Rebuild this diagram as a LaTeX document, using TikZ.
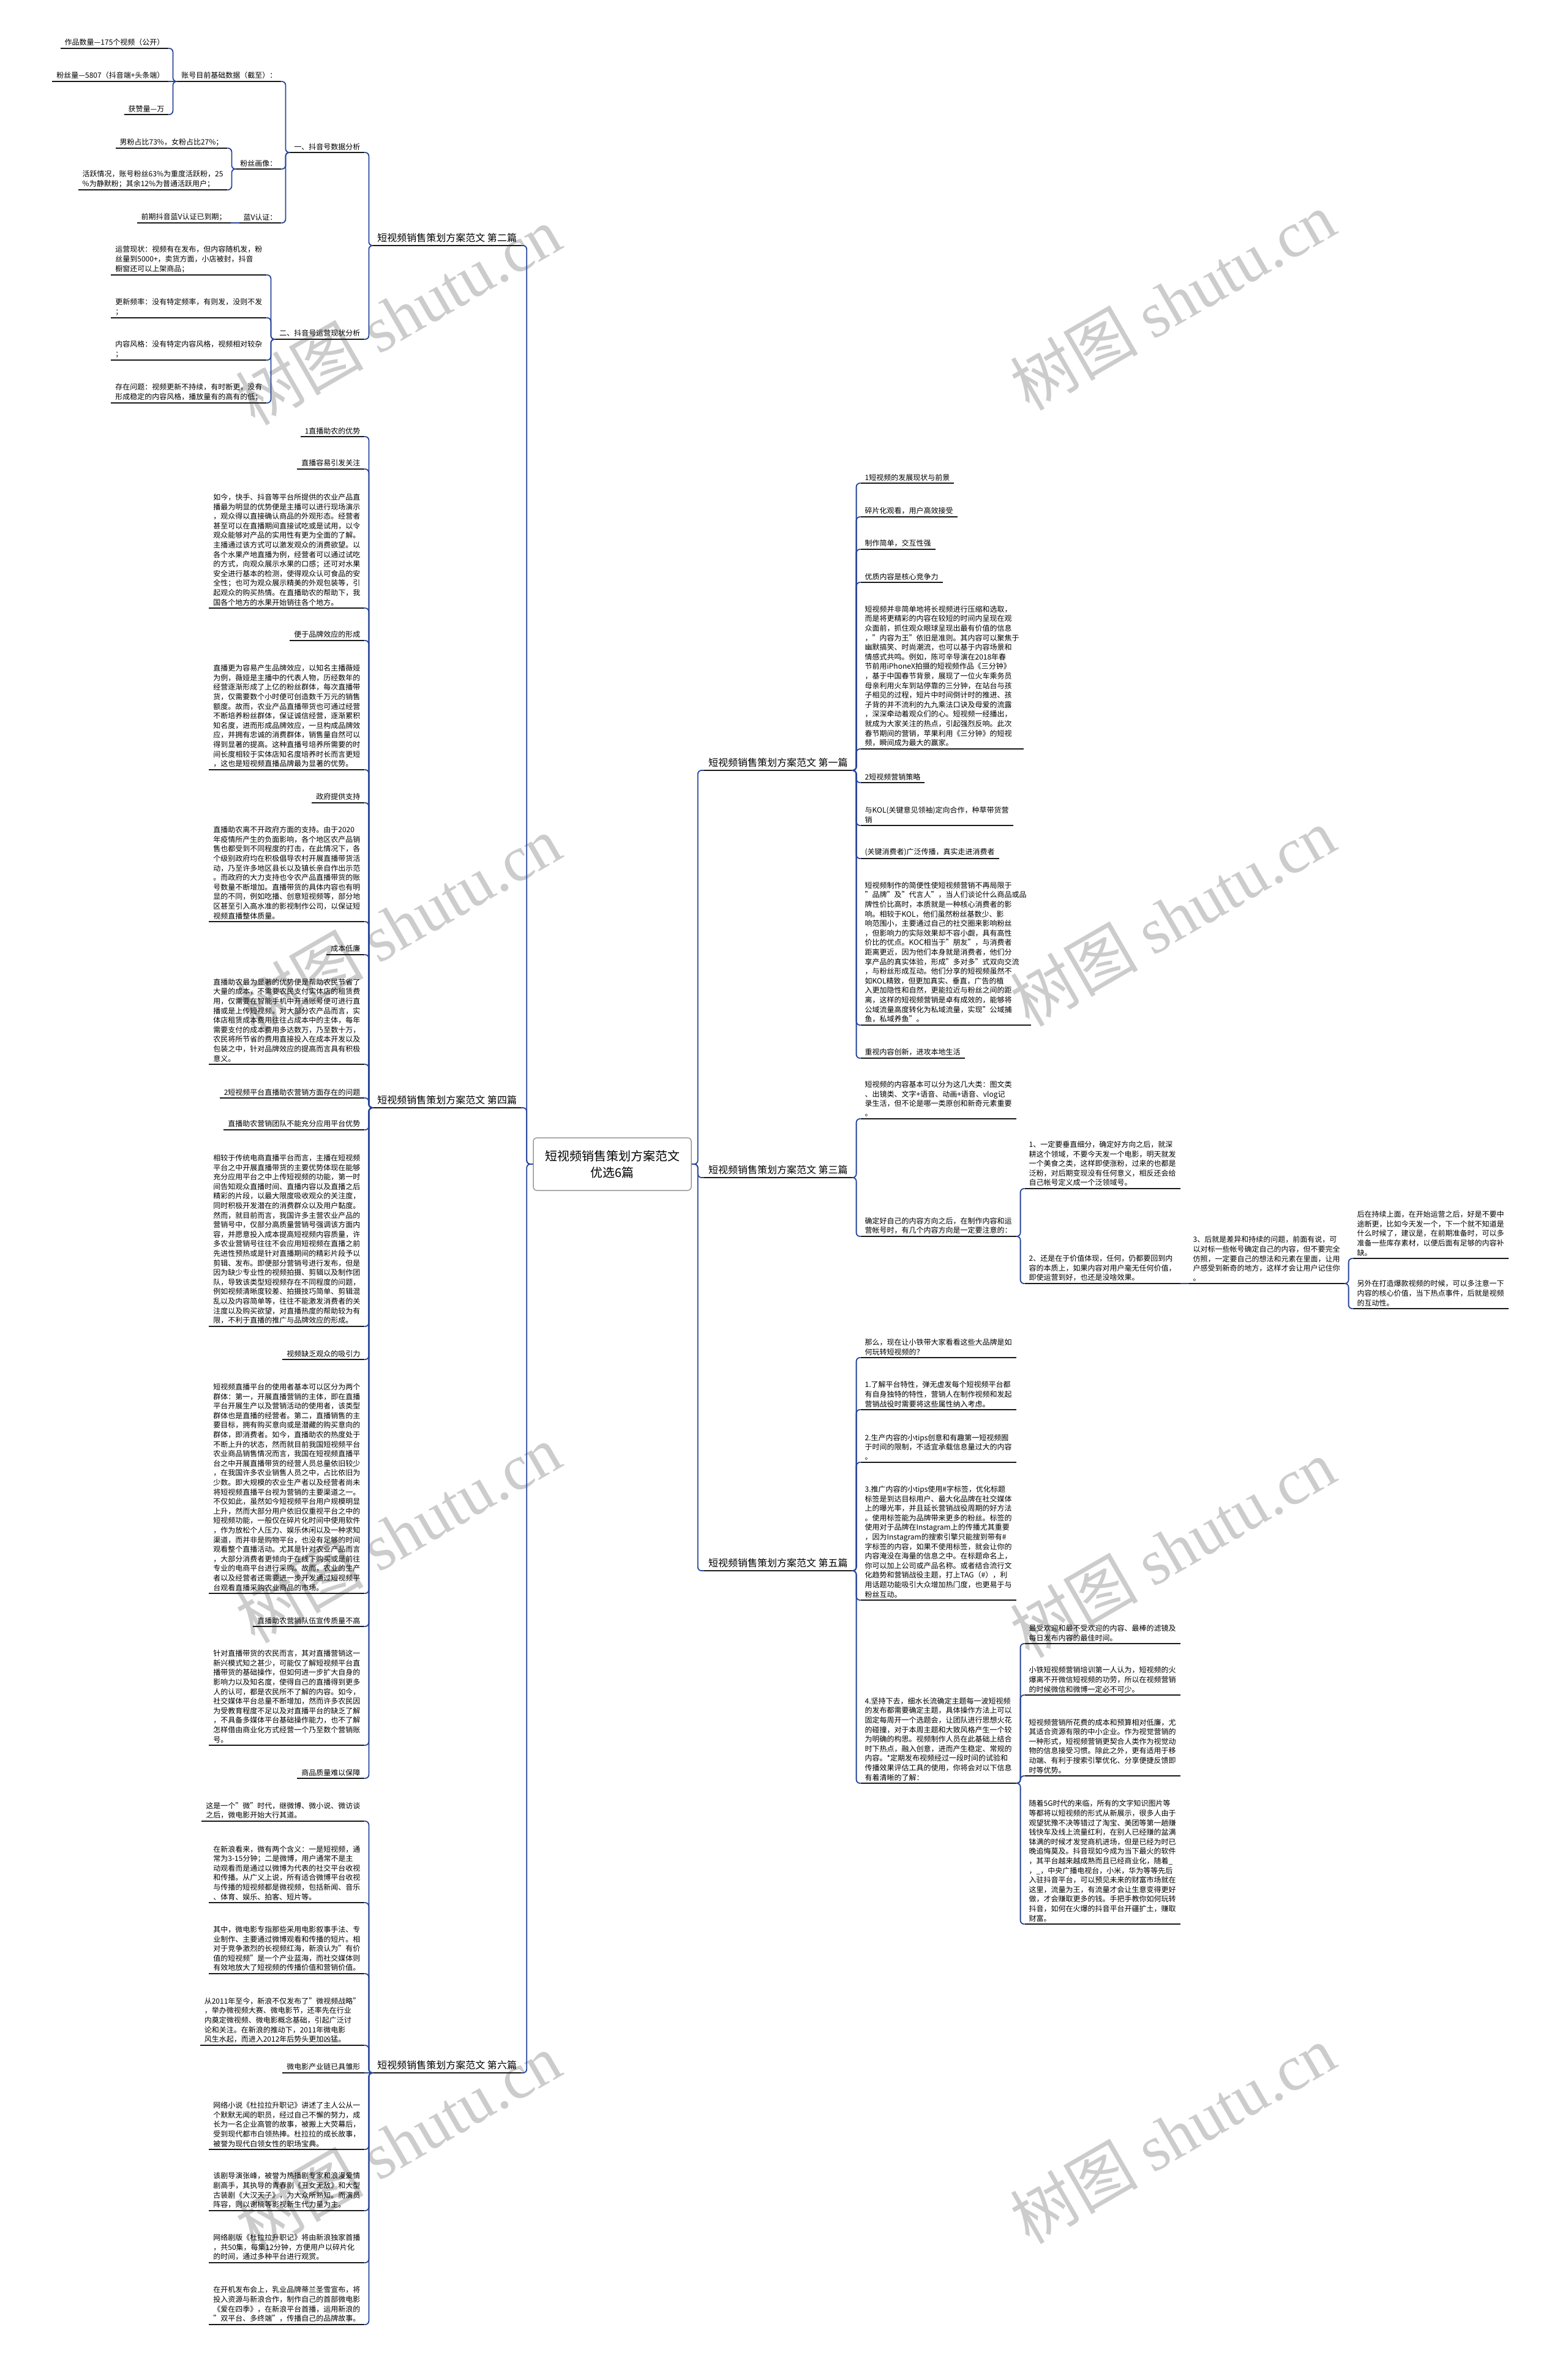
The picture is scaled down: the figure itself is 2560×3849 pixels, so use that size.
\documentclass[tikz,border=0pt]{standalone}
\usepackage{fontspec}
\setmainfont{Noto Sans CJK SC}
\newfontfamily\wmlatin{Liberation Serif}
\usetikzlibrary{calc}
\definecolor{linkblue}{HTML}{27449A}
\tikzset{
  txt/.style={font=\fontsize{12}{15.6}\selectfont, align=left, inner xsep=7pt, inner ysep=4pt, outer sep=0pt},
  lbl/.style={font=\fontsize{16}{20}\selectfont, inner xsep=7pt, inner ysep=5pt, outer sep=0pt},
  uline/.style={draw=black!90, line width=1.8pt},
  conn/.style={draw=linkblue, line width=1.8pt, rounded corners=6pt},
  centerbox/.style={draw=black!40, line width=1.5pt, rounded corners=6pt, fill=white, align=center,
    font=\fontsize{20}{27}\selectfont, minimum width=258pt, minimum height=86pt},
  wm/.style={rotate=30, font=\fontsize{105}{105}\selectfont, text=black, text opacity=0.2}
}
% left-side child: name, parent, underline y, text
\newcommand\LN[4]{%
  \node[txt,anchor=south east] (#1) at ($(#2.south west |- 0,#3)+(-14,0)$) {#4};
  \draw[uline] (#1.south west) -- (#1.south east);
  \draw[conn] (#2.south west) -- ++(-7,0) |- (#1.south east);}
\newcommand\LNs[4]{%
  \node[txt,anchor=south east] (#1) at ($(#2.south west |- 0,#3)+(-14,0)$) {#4};
  \draw[uline] (#1.south west) -- (#1.south east);
  \draw[conn] (#2.south west) -- (#1.south east);}
\newcommand\RN[4]{%
  \node[txt,anchor=south west] (#1) at ($(#2.south east |- 0,#3)+(14,0)$) {#4};
  \draw[uline] (#1.south west) -- (#1.south east);
  \draw[conn] (#2.south east) -- ++(7,0) |- (#1.south west);}
\newcommand\RNs[4]{%
  \node[txt,anchor=south west] (#1) at ($(#2.south east |- 0,#3)+(14,0)$) {#4};
  \draw[uline] (#1.south west) -- (#1.south east);
  \draw[conn] (#2.south east) -- (#1.south west);}
\newcommand\LL[3]{%
  \node[lbl,anchor=south east] (#1) at (#2) {#3};
  \draw[uline] (#1.south west) -- (#1.south east);
  \draw[conn] (c.west) -- ++(-10,0) |- (#1.south east);}
\newcommand\RL[3]{%
  \node[lbl,anchor=south west] (#1) at (#2) {#3};
  \draw[uline] (#1.south west) -- (#1.south east);
  \draw[conn] (c.east) -- ++(10,0) |- (#1.south west);}
\begin{document}
\begin{tikzpicture}[x=1pt,y=-1pt]
\fill[white] (0,0) rectangle (2560,3849);
\useasboundingbox (0,0) rectangle (2560,3849);

% watermarks
\foreach \wx/\wy in {650/515, 1915/491, 650/1510, 1915/1497, 650/2504, 1915/2528, 650/3498, 1915/3485}
  \node[wm] at (\wx,\wy) {树图 {\wmlatin shutu.cn}};

% center
\node[centerbox] (c) at (1000,1901) {短视频销售策划方案范文\\优选6篇};

% ================= 第二篇 =================
\LL{L2}{851,401}{短视频销售策划方案范文 第二篇}
\LN{n21}{L2}{249}{一、抖音号数据分析}
\LN{n22}{L2}{554}{二、抖音号运营现状分析}
\LN{n211}{n21}{133}{账号目前基础数据（截至）：}
\LN{n212}{n21}{276}{粉丝画像：}
\LN{n213}{n21}{364}{蓝V认证：}
\LN{a1}{n211}{79}{作品数量—175个视频（公开）}
\LNs{a2}{n211}{133}{粉丝量—5807（抖音端+头条端）}
\LN{a3}{n211}{187}{获赞量—万}
\LN{b1}{n212}{242}{男粉占比73\%，女粉占比27\%；}
\LN{b2}{n212}{310}{活跃情况，账号粉丝63\%为重度活跃粉，25\\\%为静默粉；其余12\%为普通活跃用户；}
\LNs{v1}{n213}{364}{前期抖音蓝V认证已到期；}
\LN{d1}{n22}{449}{运营现状：视频有在发布，但内容随机发，粉\\丝量到5000+，卖货方面，小店被封，抖音\\橱窗还可以上架商品；}
\LN{d2}{n22}{519}{更新频率：没有特定频率，有则发，没则不发\\；}
\LN{d3}{n22}{588}{内容风格：没有特定内容风格，视频相对较杂\\；}
\LN{d4}{n22}{658}{存在问题：视频更新不持续，有时断更，没有\\形成稳定的内容风格，播放量有的高有的低；}

% ================= 第四篇 =================
\LL{L4}{851,1809}{短视频销售策划方案范文 第四篇}
\LN{f1}{L4}{713}{1直播助农的优势}
\LN{f2}{L4}{766}{直播容易引发关注}
\LN{f3}{L4}{993}{如今，快手、抖音等平台所提供的农业产品直\\播最为明显的优势便是主播可以进行现场演示\\，观众得以直接确认商品的外观形态。经营者\\甚至可以在直播期间直接试吃或是试用，以令\\观众能够对产品的实用性有更为全面的了解。\\主播通过该方式可以激发观众的消费欲望。以\\各个水果产地直播为例，经营者可以通过试吃\\的方式，向观众展示水果的口感；还可对水果\\安全进行基本的检测，使得观众认可食品的安\\全性；也可为观众展示精美的外观包装等，引\\起观众的购买热情。在直播助农的帮助下，我\\国各个地方的水果开始销往各个地方。}
\LN{f4}{L4}{1046}{便于品牌效应的形成}
\LN{f5}{L4}{1257}{直播更为容易产生品牌效应，以知名主播薇娅\\为例，薇娅是主播中的代表人物，历经数年的\\经营逐渐形成了上亿的粉丝群体，每次直播带\\货，仅需要数个小时便可创造数千万元的销售\\额度。故而，农业产品直播带货也可通过经营\\不断培养粉丝群体，保证诚信经营，逐渐累积\\知名度，进而形成品牌效应，一旦构成品牌效\\应，并拥有忠诚的消费群体，销售量自然可以\\得到显著的提高。这种直播号培养所需要的时\\间长度相较于实体店知名度培养时长而言更短\\，这也是短视频直播品牌最为显著的优势。}
\LN{f6}{L4}{1311}{政府提供支持}
\LN{f7}{L4}{1505}{直播助农离不开政府方面的支持。由于2020\\年疫情所产生的负面影响，各个地区农产品销\\售也都受到不同程度的打击，在此情况下，各\\个级别政府均在积极倡导农村开展直播带货活\\动，乃至许多地区县长以及镇长亲自作出示范\\。而政府的大力支持也令农产品直播带货的账\\号数量不断增加。直播带货的具体内容也有明\\显的不同，例如吃播、创意短视频等，部分地\\区甚至引入高水准的影视制作公司，以保证短\\视频直播整体质量。}
\LN{f8}{L4}{1559}{成本低廉}
\LN{f9}{L4}{1738}{直播助农最为显著的优势便是帮助农民节省了\\大量的成本，不需要农民支付实体店的租赁费\\用，仅需要在智能手机中开通账号便可进行直\\播或是上传短视频。对大部分农产品而言，实\\体店租赁成本费用往往占成本中的主体，每年\\需要支付的成本费用多达数万，乃至数十万，\\农民将所节省的费用直接投入在成本开发以及\\包装之中，针对品牌效应的提高而言具有积极\\意义。}
\LN{f10}{L4}{1793}{2短视频平台直播助农营销方面存在的问题}
\LN{f11}{L4}{1845}{直播助农营销团队不能充分应用平台优势}
\LN{f12}{L4}{2166}{相较于传统电商直播平台而言，主播在短视频\\平台之中开展直播带货的主要优势体现在能够\\充分应用平台之中上传短视频的功能，第一时\\间告知观众直播时间、直播内容以及直播之后\\精彩的片段，以最大限度吸收观众的关注度，\\同时积极开发潜在的消费群众以及用户黏度。\\然而，就目前而言，我国许多主营农业产品的\\营销号中，仅部分高质量营销号强调该方面内\\容，并愿意投入成本提高短视频内容质量，许\\多农业营销号往往不会应用短视频在直播之前\\先进性预热或是针对直播期间的精彩片段予以\\剪辑、发布。即便部分营销号进行发布，但是\\因为缺少专业性的视频拍摄、剪辑以及制作团\\队，导致该类型短视频存在不同程度的问题，\\例如视频清晰度较差、拍摄技巧简单、剪辑混\\乱以及内容简单等，往往不能激发消费者的关\\注度以及购买欲望，对直播热度的帮助较为有\\限，不利于直播的推广与品牌效应的形成。}
\LN{f13}{L4}{2220}{视频缺乏观众的吸引力}
\LN{f14}{L4}{2602}{短视频直播平台的使用者基本可以区分为两个\\群体：第一，开展直播营销的主体，即在直播\\平台开展生产以及营销活动的使用者，该类型\\群体也是直播的经营者。第二，直播销售的主\\要目标，拥有购买意向或是潜藏的购买意向的\\群体，即消费者。如今，直播助农的热度处于\\不断上升的状态，然而就目前我国短视频平台\\农业商品销售情况而言，我国在短视频直播平\\台之中开展直播带货的经营人员总量依旧较少\\，在我国许多农业销售人员之中，占比依旧为\\少数。即大规模的农业生产者以及经营者尚未\\将短视频直播平台视为营销的主要渠道之一。\\不仅如此，虽然如今短视频平台用户规模明显\\上升，然而大部分用户依旧仅重视平台之中的\\短视频功能，一般仅在碎片化时间中使用软件\\，作为放松个人压力、娱乐休闲以及一种求知\\渠道，而并非是购物平台，也没有足够的时间\\观看整个直播活动。尤其是针对农业产品而言\\，大部分消费者更倾向于在线下购买或是前往\\专业的电商平台进行采购。故而，农业的生产\\者以及经营者还需要进一步开发通过短视频平\\台观看直播采购农业商品的市场。}
\LN{f15}{L4}{2656}{直播助农营销队伍宣传质量不高}
\LN{f16}{L4}{2850}{针对直播带货的农民而言，其对直播营销这一\\新兴模式知之甚少，可能仅了解短视频平台直\\播带货的基础操作，但如何进一步扩大自身的\\影响力以及知名度，使得自己的直播得到更多\\人的认可，都是农民所不了解的内容。如今，\\社交媒体平台总量不断增加，然而许多农民因\\为受教育程度不足以及对直播平台的缺乏了解\\，不具备多媒体平台基础操作能力，也不了解\\怎样借由商业化方式经营一个乃至数个营销账\\号。}
\LN{f17}{L4}{2904}{商品质量难以保障}

% ================= 第六篇 =================
\LL{L6}{851,3385}{短视频销售策划方案范文 第六篇}
\LN{s1}{L6}{2974}{这是一个"微"时代，继微博、微小说、微访谈\\之后，微电影开始大行其道。}
\LN{s2}{L6}{3107}{在新浪看来，微有两个含义：一是短视频，通\\常为3-15分钟；二是微博，用户通常不是主\\动观看而是通过以微博为代表的社交平台收视\\和传播。从广义上说，所有适合微博平台收视\\与传播的短视频都是微视频，包括新闻、音乐\\、体育、娱乐、拍客、短片等。}
\LN{s3}{L6}{3223}{其中，微电影专指那些采用电影叙事手法、专\\业制作、主要通过微博观看和传播的短片。相\\对于竞争激烈的长视频红海，新浪认为"有价\\值的短视频"是一个产业蓝海，而社交媒体则\\有效地放大了短视频的传播价值和营销价值。}
\LN{s4}{L6}{3340}{从2011年至今，新浪不仅发布了"微视频战略"\\，举办微视频大赛、微电影节，还率先在行业\\内奠定微视频、微电影概念基础，引起广泛讨\\论和关注。在新浪的推动下，2011年微电影\\风生水起，而进入2012年后势头更加凶猛。}
\LNs{s5}{L6}{3385}{微电影产业链已具雏形}
\LN{s6}{L6}{3510}{网络小说《杜拉拉升职记》讲述了主人公从一\\个默默无闻的职员，经过自己不懈的努力，成\\长为一名企业高管的故事，被搬上大荧幕后，\\受到现代都市白领热捧。杜拉拉的成长故事，\\被誉为现代白领女性的职场宝典。}
\LN{s7}{L6}{3610}{该剧导演张峰，被誉为热播剧专家和浪漫爱情\\剧高手，其执导的青春剧《丑女无敌》和大型\\古装剧《大汉天子》，为大众所熟知。而演员\\阵容，则以谢楠等影视新生代力量为主。}
\LN{s8}{L6}{3695}{网络剧版《杜拉拉升职记》将由新浪独家首播\\，共50集，每集12分钟，方便用户以碎片化\\的时间，通过多种平台进行观赏。}
\LN{s9}{L6}{3796}{在开机发布会上，乳业品牌蒂兰圣雪宣布，将\\投入资源与新浪合作，制作自己的首部微电影\\《爱在四季》，在新浪平台首播，运用新浪的\\"双平台、多终端"，传播自己的品牌故事。}

% ================= 第一篇 =================
\RL{R1}{1150,1258}{短视频销售策划方案范文 第一篇}
\RN{p1}{R1}{789}{1短视频的发展现状与前景}
\RN{p2}{R1}{844}{碎片化观看，用户高效接受}
\RN{p3}{R1}{897}{制作简单，交互性强}
\RN{p4}{R1}{951}{优质内容是核心竞争力}
\RN{p5}{R1}{1223}{短视频并非简单地将长视频进行压缩和选取，\\而是将更精彩的内容在较短的时间内呈现在观\\众面前，抓住观众眼球呈现出最有价值的信息\\，"内容为王"依旧是准则。其内容可以聚焦于\\幽默搞笑、时尚潮流，也可以基于内容场景和\\情感式共鸣。例如，陈可辛导演在2018年春\\节前用iPhoneX拍摄的短视频作品《三分钟》\\，基于中国春节背景，展现了一位火车乘务员\\母亲利用火车到站停靠的三分钟，在站台与孩\\子相见的过程，短片中时间倒计时的推进、孩\\子背的并不流利的九九乘法口诀及母爱的流露\\，深深牵动着观众们的心。短视频一经播出，\\就成为大家关注的热点，引起强烈反响。此次\\春节期间的营销，苹果利用《三分钟》的短视\\频，瞬间成为最大的赢家。}
\RN{p6}{R1}{1278}{2短视频营销策略}
\RN{p7}{R1}{1348}{与KOL(关键意见领袖)定向合作，种草带货营\\销}
\RN{p8}{R1}{1402}{(关键消费者)广泛传播，真实走进消费者}
\RN{p9}{R1}{1674}{短视频制作的简便性使短视频营销不再局限于\\"品牌"及"代言人"，当人们谈论什么商品或品\\牌性价比高时，本质就是一种核心消费者的影\\响。相较于KOL，他们虽然粉丝基数少、影\\响范围小，主要通过自己的社交圈来影响粉丝\\，但影响力的实际效果却不容小觑，具有高性\\价比的优点。KOC相当于"朋友"，与消费者\\距离更近，因为他们本身就是消费者，他们分\\享产品的真实体验，形成"多对多"式双向交流\\，与粉丝形成互动。他们分享的短视频虽然不\\如KOL精致，但更加真实、垂直，广告的植\\入更加隐性和自然，更能拉近与粉丝之间的距\\离，这样的短视频营销是卓有成效的，能够将\\公域流量高度转化为私域流量，实现"公域捕\\鱼，私域养鱼"。}
\RN{p10}{R1}{1728}{重视内容创新，进攻本地生活}

% ================= 第三篇 =================
\RL{R3}{1150,1923}{短视频销售策划方案范文 第三篇}
\RN{t1}{R3}{1827}{短视频的内容基本可以分为这几大类：图文类\\、出镜类、文字+语音、动画+语音、vlog记\\录生活，但不论是哪一类原创和新奇元素重要\\。}
\RN{t2}{R3}{2019}{确定好自己的内容方向之后，在制作内容和运\\营帐号时，有几个内容方向是一定要注意的：}
\RN{t21}{t2}{1941}{1、一定要垂直细分，确定好方向之后，就深\\耕这个领域，不要今天发一个电影，明天就发\\一个美食之类，这样即使涨粉，过来的也都是\\泛粉，对后期变现没有任何意义，相反还会给\\自己帐号定义成一个泛领域号。}
\RN{t22}{t2}{2096}{2、还是在于价值体现，任何，仍都要回到内\\容的本质上，如果内容对用户毫无任何价值，\\即使运营到好，也还是没啥效果。}
\RNs{t23}{t22}{2096}{3、后就是差异和持续的问题，前面有说，可\\以对标一些帐号确定自己的内容，但不要完全\\仿照，一定要自己的想法和元素在里面，让用\\户感受到新奇的地方，这样才会让用户记住你\\。}
\RN{t231}{t23}{2055}{后在持续上面，在开始运营之后，好是不要中\\途断更，比如今天发一个，下一个就不知道是\\什么时候了，建议是，在前期准备时，可以多\\准备一些库存素材，以便后面有足够的内容补\\缺。}
\RN{t232}{t23}{2137}{另外在打造爆款视频的时候，可以多注意一下\\内容的核心价值，当下热点事件，后就是视频\\的互动性。}

% ================= 第五篇 =================
\RL{R5}{1150,2565}{短视频销售策划方案范文 第五篇}
\RN{w1}{R5}{2217}{那么，现在让小铁带大家看看这些大品牌是如\\何玩转短视频的？}
\RN{w2}{R5}{2302}{1.了解平台特性，弹无虚发每个短视频平台都\\有自身独特的特性，营销人在制作视频和发起\\营销战役时需要将这些属性纳入考虑。}
\RN{w3}{R5}{2388}{2.生产内容的小tips创意和有趣第一短视频囿\\于时间的限制，不适宜承载信息量过大的内容\\。}
\RN{w4}{R5}{2613}{3.推广内容的小tips使用\#字标签，优化标题\\标签是到达目标用户、最大化品牌在社交媒体\\上的曝光率，并且延长营销战役周期的好方法\\。使用标签能为品牌带来更多的粉丝。标签的\\使用对于品牌在Instagram上的传播尤其重要\\，因为Instagram的搜索引擎只能搜到带有\#\\字标签的内容，如果不使用标签，就会让你的\\内容淹没在海量的信息之中。在标题命名上，\\你可以加上公司或产品名称。或者结合流行文\\化趋势和营销战役主题，打上TAG（\#），利\\用话题功能吸引大众增加热门度，也更易于与\\粉丝互动。}
\RN{w5}{R5}{2912}{4.坚持下去，细水长流确定主题每一波短视频\\的发布都需要确定主题，具体操作方法上可以\\固定每周开一个选题会，让团队进行思想火花\\的碰撞，对于本周主题和大致风格产生一个较\\为明确的构思。视频制作人员在此基础上结合\\时下热点，融入创意，进而产生稳定、常规的\\内容。*定期发布视频经过一段时间的试验和\\传播效果评估工具的使用，你将会对以下信息\\有着清晰的了解：}
\RN{w51}{w5}{2684}{最受欢迎和最不受欢迎的内容、最棒的滤镜及\\每日发布内容的最佳时间。}
\RN{w52}{w5}{2768}{小铁短视频营销培训第一人认为，短视频的火\\爆离不开微信短视频的功劳，所以在视频营销\\的时候微信和微博一定必不可少。}
\RN{w53}{w5}{2900}{短视频营销所花费的成本和预算相对低廉，尤\\其适合资源有限的中小企业。作为视觉营销的\\一种形式，短视频营销更契合人类作为视觉动\\物的信息接受习惯。除此之外，更有适用于移\\动端、有利于搜索引擎优化、分享便捷反馈即\\时等优势。}
\RN{w54}{w5}{3142}{随着5G时代的来临，所有的文字知识图片等\\等都将以短视频的形式从新展示，很多人由于\\观望犹豫不决等错过了淘宝、美团等第一趟赚\\钱快车及线上流量红利，在别人已经赚的盆满\\钵满的时候才发觉商机进场，但是已经为时已\\晚追悔莫及。抖音现如今成为当下最火的软件\\，其平台越来越成熟而且已经商业化，随着\_\\，\_，中央广播电视台，小米，华为等等先后\\入驻抖音平台，可以预见未来的财富市场就在\\这里，流量为王，有流量才会让生意变得更好\\做，才会赚取更多的钱。手把手教你如何玩转\\抖音，如何在火爆的抖音平台开疆扩土，赚取\\财富。}
\end{tikzpicture}
\end{document}
